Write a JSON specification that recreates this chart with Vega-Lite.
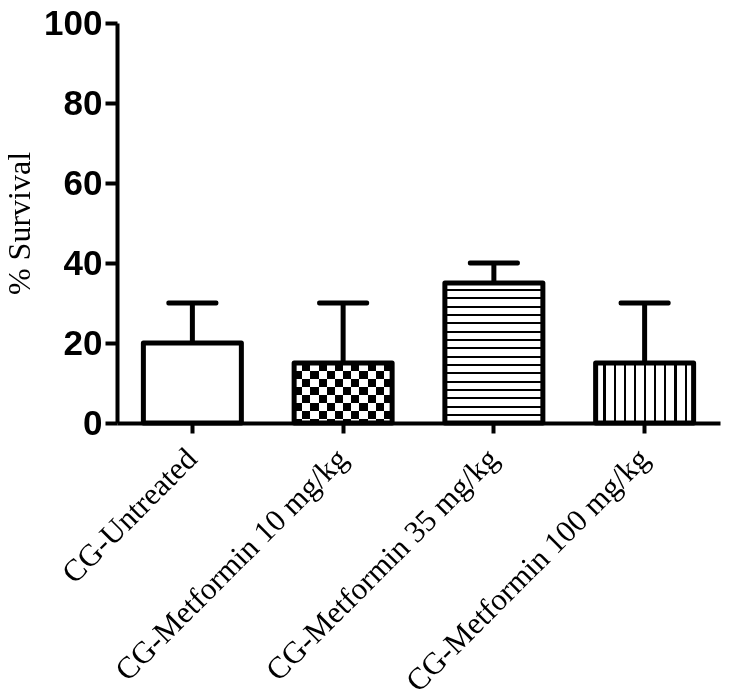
{
  "$schema": "https://vega.github.io/schema/vega-lite/v6.json",
  "autosize": "none",
  "width": 603,
  "height": 400,
  "padding": {"left": 117, "top": 23, "right": 10, "bottom": 274},
  "background": "white",
  "config": {"view": {"stroke": null}},
  "data": {
    "values": [
      {"group": "CG-Untreated", "survival": 20, "upper": 30},
      {"group": "CG-Metformin 10 mg/kg", "survival": 15, "upper": 30},
      {"group": "CG-Metformin 35 mg/kg", "survival": 35, "upper": 40},
      {"group": "CG-Metformin 100 mg/kg", "survival": 15, "upper": 30}
    ]
  },
  "encoding": {
    "x": {
      "field": "group", "type": "nominal",
      "sort": ["CG-Untreated", "CG-Metformin 10 mg/kg", "CG-Metformin 35 mg/kg", "CG-Metformin 100 mg/kg"],
      "scale": {"paddingInner": 0.35, "paddingOuter": 0.175},
      "axis": {
        "title": null, "domainColor": "black", "domainWidth": 4,
        "tickColor": "black", "tickWidth": 4, "tickSize": 10,
        "labelAngle": -45, "labelAlign": "right", "labelBaseline": "middle",
        "labelFont": "Liberation Serif", "labelFontSize": 31, "labelColor": "black",
        "labelPadding": 21, "labelLimit": 0, "labelOverlap": false
      }
    },
    "y": {
      "field": "survival", "type": "quantitative",
      "scale": {"domain": [0, 100], "nice": false},
      "axis": {
        "values": [0, 20, 40, 60, 80, 100], "grid": false,
        "domainColor": "black", "domainWidth": 4,
        "tickColor": "black", "tickWidth": 4, "tickSize": 12,
        "labelFont": "Liberation Sans", "labelFontWeight": "bold", "labelFontSize": 35,
        "labelColor": "black", "labelPadding": 3,
        "title": "% Survival", "titleFont": "Liberation Serif", "titleFontSize": 32,
        "titleFontWeight": "normal", "titleColor": "black", "titlePadding": 7
      }
    }
  },
  "layer": [
    {
      "transform": [{"filter": "datum.group === 'CG-Metformin 10 mg/kg'"}],
      "mark": {
        "type": "bar", "strokeWidth": 0,
        "fill": {
          "gradient": "linear", "x1": 0, "y1": 0, "x2": 1, "y2": 0,
          "stops": [
            {"offset": 0, "color": "white"}, {"offset": 0.0833, "color": "white"},
            {"offset": 0.0833, "color": "black"}, {"offset": 0.1667, "color": "black"},
            {"offset": 0.1667, "color": "white"}, {"offset": 0.25, "color": "white"},
            {"offset": 0.25, "color": "black"}, {"offset": 0.3333, "color": "black"},
            {"offset": 0.3333, "color": "white"}, {"offset": 0.4167, "color": "white"},
            {"offset": 0.4167, "color": "black"}, {"offset": 0.5, "color": "black"},
            {"offset": 0.5, "color": "white"}, {"offset": 0.5833, "color": "white"},
            {"offset": 0.5833, "color": "black"}, {"offset": 0.6667, "color": "black"},
            {"offset": 0.6667, "color": "white"}, {"offset": 0.75, "color": "white"},
            {"offset": 0.75, "color": "black"}, {"offset": 0.8333, "color": "black"},
            {"offset": 0.8333, "color": "white"}, {"offset": 0.9167, "color": "white"},
            {"offset": 0.9167, "color": "black"}, {"offset": 1, "color": "black"}
          ]
        }
      }
    },
    {
      "transform": [{"filter": "datum.group === 'CG-Metformin 10 mg/kg'"}],
      "mark": {
        "type": "bar", "strokeWidth": 0, "blend": "difference",
        "fill": {
          "gradient": "linear", "x1": 0, "y1": 0, "x2": 0, "y2": 1,
          "stops": [
            {"offset": 0, "color": "black"}, {"offset": 0.1333, "color": "black"},
            {"offset": 0.1333, "color": "white"}, {"offset": 0.2667, "color": "white"},
            {"offset": 0.2667, "color": "black"}, {"offset": 0.4, "color": "black"},
            {"offset": 0.4, "color": "white"}, {"offset": 0.5333, "color": "white"},
            {"offset": 0.5333, "color": "black"}, {"offset": 0.6667, "color": "black"},
            {"offset": 0.6667, "color": "white"}, {"offset": 0.8, "color": "white"},
            {"offset": 0.8, "color": "black"}, {"offset": 0.9333, "color": "black"},
            {"offset": 0.9333, "color": "white"}, {"offset": 1, "color": "white"}
          ]
        }
      }
    },
    {
      "transform": [{"filter": "datum.group === 'CG-Metformin 35 mg/kg'"}],
      "mark": {
        "type": "bar", "strokeWidth": 0,
        "fill": {
          "gradient": "linear", "x1": 0, "y1": 0, "x2": 0, "y2": 1,
          "stops": [
            {"offset": 0, "color": "white"},
            {"offset": 0.0425, "color": "white"}, {"offset": 0.0425, "color": "black"}, {"offset": 0.0575, "color": "black"}, {"offset": 0.0575, "color": "white"},
            {"offset": 0.102, "color": "white"}, {"offset": 0.102, "color": "black"}, {"offset": 0.117, "color": "black"}, {"offset": 0.117, "color": "white"},
            {"offset": 0.1615, "color": "white"}, {"offset": 0.1615, "color": "black"}, {"offset": 0.1765, "color": "black"}, {"offset": 0.1765, "color": "white"},
            {"offset": 0.221, "color": "white"}, {"offset": 0.221, "color": "black"}, {"offset": 0.236, "color": "black"}, {"offset": 0.236, "color": "white"},
            {"offset": 0.2805, "color": "white"}, {"offset": 0.2805, "color": "black"}, {"offset": 0.2955, "color": "black"}, {"offset": 0.2955, "color": "white"},
            {"offset": 0.34, "color": "white"}, {"offset": 0.34, "color": "black"}, {"offset": 0.355, "color": "black"}, {"offset": 0.355, "color": "white"},
            {"offset": 0.3995, "color": "white"}, {"offset": 0.3995, "color": "black"}, {"offset": 0.4145, "color": "black"}, {"offset": 0.4145, "color": "white"},
            {"offset": 0.459, "color": "white"}, {"offset": 0.459, "color": "black"}, {"offset": 0.474, "color": "black"}, {"offset": 0.474, "color": "white"},
            {"offset": 0.5185, "color": "white"}, {"offset": 0.5185, "color": "black"}, {"offset": 0.5335, "color": "black"}, {"offset": 0.5335, "color": "white"},
            {"offset": 0.578, "color": "white"}, {"offset": 0.578, "color": "black"}, {"offset": 0.593, "color": "black"}, {"offset": 0.593, "color": "white"},
            {"offset": 0.6375, "color": "white"}, {"offset": 0.6375, "color": "black"}, {"offset": 0.6525, "color": "black"}, {"offset": 0.6525, "color": "white"},
            {"offset": 0.697, "color": "white"}, {"offset": 0.697, "color": "black"}, {"offset": 0.712, "color": "black"}, {"offset": 0.712, "color": "white"},
            {"offset": 0.7565, "color": "white"}, {"offset": 0.7565, "color": "black"}, {"offset": 0.7715, "color": "black"}, {"offset": 0.7715, "color": "white"},
            {"offset": 0.816, "color": "white"}, {"offset": 0.816, "color": "black"}, {"offset": 0.831, "color": "black"}, {"offset": 0.831, "color": "white"},
            {"offset": 0.8755, "color": "white"}, {"offset": 0.8755, "color": "black"}, {"offset": 0.8905, "color": "black"}, {"offset": 0.8905, "color": "white"},
            {"offset": 0.935, "color": "white"}, {"offset": 0.935, "color": "black"}, {"offset": 0.95, "color": "black"}, {"offset": 0.95, "color": "white"},
            {"offset": 1, "color": "white"}
          ]
        }
      }
    },
    {
      "transform": [{"filter": "datum.group === 'CG-Metformin 100 mg/kg'"}],
      "mark": {
        "type": "bar", "strokeWidth": 0,
        "fill": {
          "gradient": "linear", "x1": 0, "y1": 0, "x2": 1, "y2": 0,
          "stops": [
            {"offset": 0, "color": "white"},
            {"offset": 0.079, "color": "white"}, {"offset": 0.079, "color": "black"}, {"offset": 0.101, "color": "black"}, {"offset": 0.101, "color": "white"},
            {"offset": 0.1825, "color": "white"}, {"offset": 0.1825, "color": "black"}, {"offset": 0.2045, "color": "black"}, {"offset": 0.2045, "color": "white"},
            {"offset": 0.286, "color": "white"}, {"offset": 0.286, "color": "black"}, {"offset": 0.308, "color": "black"}, {"offset": 0.308, "color": "white"},
            {"offset": 0.3895, "color": "white"}, {"offset": 0.3895, "color": "black"}, {"offset": 0.4115, "color": "black"}, {"offset": 0.4115, "color": "white"},
            {"offset": 0.493, "color": "white"}, {"offset": 0.493, "color": "black"}, {"offset": 0.515, "color": "black"}, {"offset": 0.515, "color": "white"},
            {"offset": 0.5965, "color": "white"}, {"offset": 0.5965, "color": "black"}, {"offset": 0.6185, "color": "black"}, {"offset": 0.6185, "color": "white"},
            {"offset": 0.7, "color": "white"}, {"offset": 0.7, "color": "black"}, {"offset": 0.722, "color": "black"}, {"offset": 0.722, "color": "white"},
            {"offset": 0.8035, "color": "white"}, {"offset": 0.8035, "color": "black"}, {"offset": 0.8255, "color": "black"}, {"offset": 0.8255, "color": "white"},
            {"offset": 0.907, "color": "white"}, {"offset": 0.907, "color": "black"}, {"offset": 0.929, "color": "black"}, {"offset": 0.929, "color": "white"},
            {"offset": 1, "color": "white"}
          ]
        }
      }
    },
    {
      "mark": {"type": "bar", "fill": "white", "fillOpacity": 0, "stroke": "black", "strokeWidth": 5, "strokeJoin": "round"}
    },
    {
      "mark": {"type": "rule", "color": "black", "strokeWidth": 5},
      "encoding": {"y": {"field": "survival", "type": "quantitative"}, "y2": {"field": "upper"}}
    },
    {
      "mark": {"type": "tick", "color": "black", "opacity": 1, "size": 52, "thickness": 5, "cornerRadius": 2},
      "encoding": {"y": {"field": "upper", "type": "quantitative"}}
    }
  ]
}
